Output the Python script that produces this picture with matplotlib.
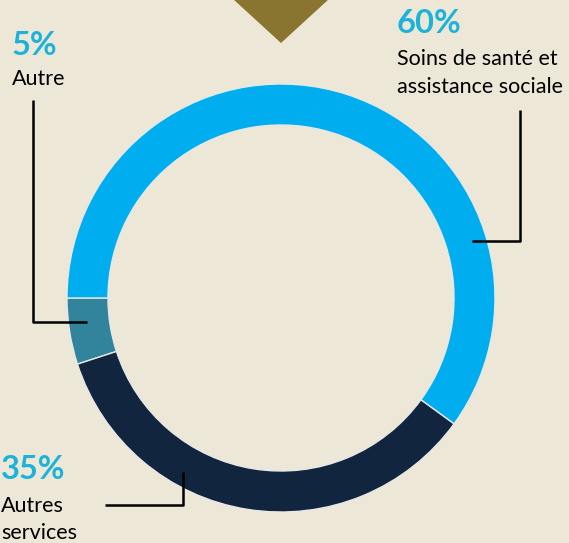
import matplotlib.pyplot as plt
from matplotlib.patches import Polygon

# data
labels = [['Autre'], ['Autres', 'services'], ['Soins de santé et', 'assistance sociale']]
pcts = [5, 35, 60]
colors = ['#31849B', '#12253F', '#00AEEF']

bg = '#EDE7D8'
W, H = 569, 543

fig = plt.figure(figsize=(W / 100, H / 100), dpi=100)
fig.patch.set_facecolor(bg)
ax = fig.add_axes([0, 0, 1, 1])
ax.set_facecolor(bg)

def Y(py):
    return H - py

# donut
cx, cy = 281, Y(298)
ax.pie(pcts, colors=colors, startangle=180, counterclock=True,
       radius=214, center=(cx, cy), frame=True,
       wedgeprops=dict(width=41, edgecolor='#E8E8E8', linewidth=1))
ax.set_xlim(0, W)
ax.set_ylim(0, H)
ax.axis('off')

# triangle at the top
ax.add_patch(Polygon([(233, Y(-1)), (329, Y(-1)), (281, Y(43))],
                     closed=True, color='#8A7530', lw=0))

# leader lines
lk = dict(color='black', lw=1.8, solid_capstyle='butt')
ax.plot([520, 520, 472], [Y(110), Y(241), Y(241)], **lk)
ax.plot([33, 33, 87], [Y(100), Y(322), Y(322)], **lk)
ax.plot([105, 183, 183], [Y(505), Y(505), Y(472)], **lk)

# labels: (x of pct, baseline of pct, x of text, baselines of text lines)
pc = '#1BB3D9'
fam = ['Lato', 'DejaVu Sans']
spots = [(12, 55, 12, [85]), (1, 479, 1, [512, 539]), (397, 33, 397, [65, 93])]
for i, (x, yb, tx, lines_y) in enumerate(spots):
    ax.text(x, Y(yb), f'{pcts[i]}%', color=pc, fontsize=23.5, fontweight='bold',
            family=fam, va='baseline')
    for txt, ly in zip(labels[i], lines_y):
        ax.text(tx, Y(ly), txt, color='black', fontsize=15.5, family=fam,
                va='baseline')

fig.savefig('out.png', dpi=100, facecolor=bg)
